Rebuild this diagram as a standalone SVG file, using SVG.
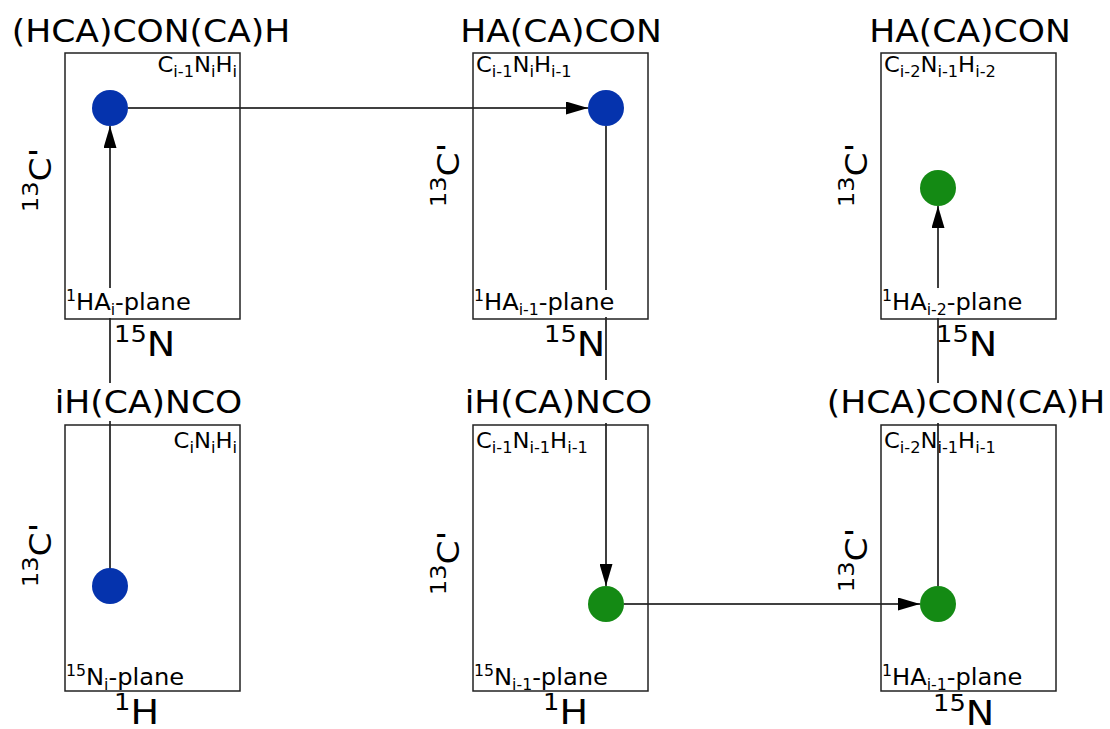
<svg xmlns="http://www.w3.org/2000/svg" width="1110" height="729" viewBox="0 0 1110 729">
<defs>
<marker id="arr" markerUnits="userSpaceOnUse" markerWidth="22" markerHeight="13" refX="22" refY="6.5" orient="auto"><path d="M0,0 L22,6.5 L0,13 z" fill="#000"/></marker>
</defs>
<style>
text{font-family:"DejaVu Sans",Verdana,sans-serif;fill:#000}
.box{fill:none;stroke:#222;stroke-width:1.5}
.title{font-size:32px}
.sub{font-size:21px}
.s{font-size:15px}
.plane{font-size:23px}
.ps{font-size:15px}
.ax{font-size:34px}
.axs{font-size:23px}
.vx{font-size:30px}
.vxs{font-size:21px}
.blue{fill:#0533AD}
.green{fill:#148A14}
.conn{fill:none;stroke:#000;stroke-width:1.5}
</style>
<rect width="1110" height="729" fill="#fff"/>
<g id="connectors">
<path class="conn" d="M110,586 V421 M110,383 V318 M110,288 V126" marker-end="url(#arr)"/>
<path class="conn" d="M128,108 H588" marker-end="url(#arr)"/>
<path class="conn" d="M606,126 V290 M606,317 V380 M606,423 V586" marker-end="url(#arr)"/>
<path class="conn" d="M624,604 H920" marker-end="url(#arr)"/>
<path class="conn" d="M938,586 V423 M938,383 V318 M938,288 V206" marker-end="url(#arr)"/>
</g>
<g id="p1">
<rect class="box" x="65" y="53" width="175" height="266"/>
<text class="title" text-anchor="middle" transform="translate(151,42) scale(1.08,1)">(HCA)CON(CA)H</text>
<text class="sub" text-anchor="end" transform="translate(237,72) scale(1.08,1)">C<tspan class="s" dy="5">i-1</tspan><tspan dy="-5">N</tspan><tspan class="s" dy="5">i</tspan><tspan dy="-5">H</tspan><tspan class="s" dy="5">i</tspan></text>
<text class="plane" transform="translate(66,310) scale(1.05,1)"><tspan class="ps" dy="-9">1</tspan><tspan dy="9">HA</tspan><tspan class="ps" dy="5">i</tspan><tspan dy="-5">-plane</tspan></text>
<text class="ax" transform="translate(114,356) scale(1.12,1)"><tspan class="axs" dy="-14">15</tspan><tspan dy="14">N</tspan></text>
<text class="vx" text-anchor="middle" transform="translate(51,180) rotate(-90) scale(1.15,1)"><tspan class="vxs" dy="-13">13</tspan><tspan dy="13">C'</tspan></text>
<circle class="blue" cx="110" cy="108" r="18"/>
</g>
<g id="p2">
<rect class="box" x="473" y="53" width="175" height="266"/>
<text class="title" text-anchor="middle" transform="translate(561,42) scale(1.08,1)">HA(CA)CON</text>
<text class="sub" transform="translate(476,72) scale(1.08,1)">C<tspan class="s" dy="5">i-1</tspan><tspan dy="-5">N</tspan><tspan class="s" dy="5">i</tspan><tspan dy="-5">H</tspan><tspan class="s" dy="5">i-1</tspan></text>
<text class="plane" transform="translate(474,310) scale(1.05,1)"><tspan class="ps" dy="-9">1</tspan><tspan dy="9">HA</tspan><tspan class="ps" dy="5">i-1</tspan><tspan dy="-5">-plane</tspan></text>
<text class="ax" transform="translate(544,356) scale(1.12,1)"><tspan class="axs" dy="-14">15</tspan><tspan dy="14">N</tspan></text>
<text class="vx" text-anchor="middle" transform="translate(459,175) rotate(-90) scale(1.15,1)"><tspan class="vxs" dy="-13">13</tspan><tspan dy="13">C'</tspan></text>
<circle class="blue" cx="606" cy="108" r="18"/>
</g>
<g id="p3">
<rect class="box" x="881" y="53" width="175" height="266"/>
<text class="title" text-anchor="middle" transform="translate(970,42) scale(1.08,1)">HA(CA)CON</text>
<text class="sub" transform="translate(884,72) scale(1.08,1)">C<tspan class="s" dy="5">i-2</tspan><tspan dy="-5">N</tspan><tspan class="s" dy="5">i-1</tspan><tspan dy="-5">H</tspan><tspan class="s" dy="5">i-2</tspan></text>
<text class="plane" transform="translate(882,310) scale(1.05,1)"><tspan class="ps" dy="-9">1</tspan><tspan dy="9">HA</tspan><tspan class="ps" dy="5">i-2</tspan><tspan dy="-5">-plane</tspan></text>
<text class="ax" transform="translate(936,356) scale(1.12,1)"><tspan class="axs" dy="-14">15</tspan><tspan dy="14">N</tspan></text>
<text class="vx" text-anchor="middle" transform="translate(867,175) rotate(-90) scale(1.15,1)"><tspan class="vxs" dy="-13">13</tspan><tspan dy="13">C'</tspan></text>
<circle class="green" cx="938" cy="188" r="18"/>
</g>
<g id="p4">
<rect class="box" x="65" y="425" width="175" height="266"/>
<text class="title" text-anchor="middle" transform="translate(148.5,413) scale(1.08,1)">iH(CA)NCO</text>
<text class="sub" text-anchor="end" transform="translate(237,448) scale(1.08,1)">C<tspan class="s" dy="5">i</tspan><tspan dy="-5">N</tspan><tspan class="s" dy="5">i</tspan><tspan dy="-5">H</tspan><tspan class="s" dy="5">i</tspan></text>
<text class="plane" transform="translate(66,685) scale(1.05,1)"><tspan class="ps" dy="-9">15</tspan><tspan dy="9">N</tspan><tspan class="ps" dy="5">i</tspan><tspan dy="-5">-plane</tspan></text>
<text class="ax" transform="translate(114,724) scale(1.12,1)"><tspan class="axs" dy="-14">1</tspan><tspan dy="14">H</tspan></text>
<text class="vx" text-anchor="middle" transform="translate(51,555) rotate(-90) scale(1.15,1)"><tspan class="vxs" dy="-13">13</tspan><tspan dy="13">C'</tspan></text>
<circle class="blue" cx="110" cy="586" r="18"/>
</g>
<g id="p5">
<rect class="box" x="473" y="425" width="175" height="266"/>
<text class="title" text-anchor="middle" transform="translate(558.5,413) scale(1.08,1)">iH(CA)NCO</text>
<text class="sub" transform="translate(476,448) scale(1.08,1)">C<tspan class="s" dy="5">i-1</tspan><tspan dy="-5">N</tspan><tspan class="s" dy="5">i-1</tspan><tspan dy="-5">H</tspan><tspan class="s" dy="5">i-1</tspan></text>
<text class="plane" transform="translate(474,685) scale(1.05,1)"><tspan class="ps" dy="-9">15</tspan><tspan dy="9">N</tspan><tspan class="ps" dy="5">i-1</tspan><tspan dy="-5">-plane</tspan></text>
<text class="ax" transform="translate(543,724) scale(1.12,1)"><tspan class="axs" dy="-14">1</tspan><tspan dy="14">H</tspan></text>
<text class="vx" text-anchor="middle" transform="translate(459,563) rotate(-90) scale(1.15,1)"><tspan class="vxs" dy="-13">13</tspan><tspan dy="13">C'</tspan></text>
<circle class="green" cx="606" cy="604" r="18"/>
</g>
<g id="p6">
<rect class="box" x="881" y="425" width="175" height="266"/>
<text class="title" text-anchor="middle" transform="translate(966,413) scale(1.08,1)">(HCA)CON(CA)H</text>
<text class="sub" transform="translate(884,448) scale(1.08,1)">C<tspan class="s" dy="5">i-2</tspan><tspan dy="-5">N</tspan><tspan class="s" dy="5">i-1</tspan><tspan dy="-5">H</tspan><tspan class="s" dy="5">i-1</tspan></text>
<text class="plane" transform="translate(882,685) scale(1.05,1)"><tspan class="ps" dy="-9">1</tspan><tspan dy="9">HA</tspan><tspan class="ps" dy="5">i-1</tspan><tspan dy="-5">-plane</tspan></text>
<text class="ax" transform="translate(933,725) scale(1.12,1)"><tspan class="axs" dy="-14">15</tspan><tspan dy="14">N</tspan></text>
<text class="vx" text-anchor="middle" transform="translate(867,560) rotate(-90) scale(1.15,1)"><tspan class="vxs" dy="-13">13</tspan><tspan dy="13">C'</tspan></text>
<circle class="green" cx="938" cy="604" r="18"/>
</g>
</svg>
